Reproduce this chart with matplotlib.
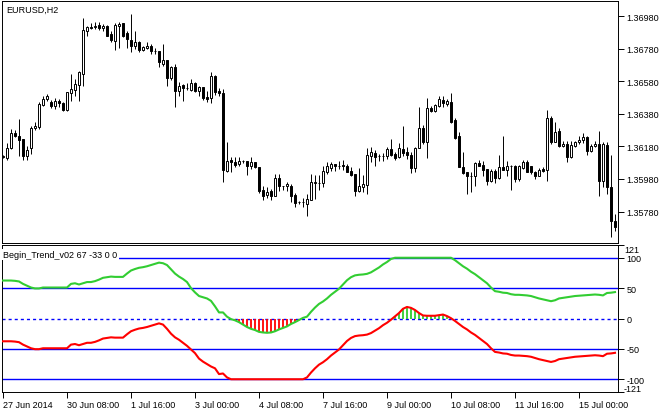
import numpy as np
import matplotlib.pyplot as plt

plt.rcParams['font.family'] = ['Liberation Sans', 'DejaVu Sans']

W, H = 667, 410

# EURUSD H2 bars, 27 Jun 2014 .. 15 Jul 2014
opens = [
    1.36115, 1.36108, 1.36170, 1.36262, 1.36243, 1.36225, 1.36121, 1.36170, 1.36292, 1.36299,
    1.36434, 1.36471, 1.36452, 1.36428, 1.36458, 1.36446, 1.36403, 1.36507, 1.36526, 1.36556,
    1.36624, 1.36888, 1.36912, 1.36912, 1.36925, 1.36906, 1.36919, 1.36870, 1.36827, 1.36919,
    1.36937, 1.36876, 1.36833, 1.36796, 1.36820, 1.36771, 1.36784, 1.36796, 1.36765, 1.36765,
    1.36685, 1.36710, 1.36599, 1.36667, 1.36520, 1.36556, 1.36538, 1.36526, 1.36569, 1.36520,
    1.36544, 1.36483, 1.36477, 1.36612, 1.36520, 1.36507, 1.36029, 1.36096, 1.36084, 1.36072,
    1.36090, 1.36090, 1.36059, 1.36084, 1.36053, 1.35912, 1.35881, 1.35906, 1.35875, 1.35986,
    1.35937, 1.35937, 1.35937, 1.35881, 1.35838, 1.35838, 1.35826, 1.35851, 1.35955, 1.35955,
    1.35955, 1.36022, 1.36047, 1.36072, 1.36059, 1.36065, 1.36059, 1.36029, 1.36010, 1.35906,
    1.35930, 1.35943, 1.36121, 1.36139, 1.36121, 1.36121, 1.36121, 1.36164, 1.36133, 1.36115,
    1.36164, 1.36145, 1.36127, 1.36047, 1.36170, 1.36292, 1.36207, 1.36415, 1.36397, 1.36428,
    1.36464, 1.36440, 1.36452, 1.36342, 1.36243, 1.36053, 1.36022, 1.35998, 1.35998, 1.36078,
    1.36065, 1.36041, 1.35967, 1.36029, 1.35986, 1.36053, 1.36035, 1.36059, 1.36059, 1.35980,
    1.36047, 1.36084, 1.36059, 1.36022, 1.35998, 1.36041, 1.36035, 1.36354, 1.36207, 1.36274,
    1.36182, 1.36194, 1.36115, 1.36182, 1.36207, 1.36219, 1.36237, 1.36151, 1.36182, 1.36194,
    1.35967, 1.36188, 1.35930, 1.35722,
]
highs = [
    1.36127, 1.36200, 1.36286, 1.36280, 1.36348, 1.36225, 1.36182, 1.36305, 1.36329, 1.36452,
    1.36489, 1.36501, 1.36464, 1.36477, 1.36471, 1.36452, 1.36514, 1.36624, 1.36593, 1.36642,
    1.36968, 1.36919, 1.36937, 1.36943, 1.36943, 1.36931, 1.36925, 1.36888, 1.36937, 1.36943,
    1.36937, 1.36888, 1.36992, 1.36888, 1.36827, 1.36796, 1.36820, 1.36808, 1.36784, 1.36765,
    1.36808, 1.36710, 1.36673, 1.36685, 1.36575, 1.36563, 1.36569, 1.36593, 1.36575, 1.36550,
    1.36544, 1.36520, 1.36636, 1.36618, 1.36538, 1.36532, 1.36207, 1.36115, 1.36115, 1.36115,
    1.36096, 1.36090, 1.36115, 1.36084, 1.36053, 1.35937, 1.35930, 1.35918, 1.36010, 1.36010,
    1.35937, 1.35961, 1.35949, 1.35894, 1.35844, 1.35863, 1.35887, 1.36010, 1.36004, 1.36004,
    1.36059, 1.36084, 1.36084, 1.36072, 1.36090, 1.36096, 1.36072, 1.36053, 1.36010, 1.36047,
    1.36004, 1.36170, 1.36176, 1.36158, 1.36133, 1.36139, 1.36176, 1.36225, 1.36145, 1.36200,
    1.36305, 1.36176, 1.36145, 1.36176, 1.36421, 1.36311, 1.36477, 1.36428, 1.36440, 1.36489,
    1.36489, 1.36471, 1.36507, 1.36354, 1.36268, 1.36145, 1.36022, 1.36022, 1.36084, 1.36096,
    1.36090, 1.36041, 1.36041, 1.36041, 1.36127, 1.36243, 1.36090, 1.36065, 1.36065, 1.36065,
    1.36096, 1.36096, 1.36059, 1.36029, 1.36047, 1.36053, 1.36403, 1.36366, 1.36329, 1.36292,
    1.36213, 1.36213, 1.36213, 1.36213, 1.36243, 1.36262, 1.36243, 1.36194, 1.36213, 1.36274,
    1.36207, 1.36207, 1.36127, 1.35765,
]
lows = [
    1.36108, 1.36096, 1.36164, 1.36237, 1.36121, 1.36096, 1.36096, 1.36133, 1.36280, 1.36286,
    1.36428, 1.36458, 1.36415, 1.36409, 1.36421, 1.36397, 1.36397, 1.36458, 1.36489, 1.36458,
    1.36550, 1.36857, 1.36900, 1.36900, 1.36894, 1.36888, 1.36857, 1.36820, 1.36771, 1.36784,
    1.36851, 1.36784, 1.36759, 1.36777, 1.36759, 1.36765, 1.36777, 1.36747, 1.36747, 1.36667,
    1.36673, 1.36550, 1.36587, 1.36421, 1.36489, 1.36458, 1.36526, 1.36520, 1.36514, 1.36489,
    1.36464, 1.36452, 1.36446, 1.36495, 1.36489, 1.35961, 1.36022, 1.36022, 1.36053, 1.36059,
    1.36078, 1.36004, 1.36041, 1.36047, 1.35894, 1.35851, 1.35863, 1.35851, 1.35875, 1.35906,
    1.35912, 1.35906, 1.35838, 1.35808, 1.35826, 1.35808, 1.35752, 1.35851, 1.35857, 1.35912,
    1.35930, 1.36010, 1.36029, 1.36029, 1.36041, 1.36035, 1.36022, 1.35998, 1.35875, 1.35900,
    1.35900, 1.35887, 1.36084, 1.36059, 1.36090, 1.36090, 1.36102, 1.36121, 1.36096, 1.36108,
    1.36121, 1.36102, 1.36016, 1.36022, 1.36170, 1.36194, 1.36108, 1.36391, 1.36391, 1.36421,
    1.36421, 1.36428, 1.36323, 1.36225, 1.36053, 1.36010, 1.35887, 1.35900, 1.35937, 1.36059,
    1.35998, 1.35943, 1.35961, 1.35955, 1.35980, 1.36035, 1.35998, 1.35912, 1.35961, 1.35967,
    1.36041, 1.36022, 1.36010, 1.35980, 1.35998, 1.36022, 1.35967, 1.36194, 1.36207, 1.36176,
    1.36176, 1.36084, 1.36108, 1.36176, 1.36194, 1.36200, 1.36127, 1.36145, 1.36176, 1.35875,
    1.35930, 1.35887, 1.35624, 1.35660,
]
closes = [
    1.36121, 1.36170, 1.36262, 1.36243, 1.36219, 1.36121, 1.36158, 1.36292, 1.36305, 1.36440,
    1.36471, 1.36489, 1.36428, 1.36458, 1.36446, 1.36403, 1.36514, 1.36532, 1.36563, 1.36636,
    1.36894, 1.36912, 1.36906, 1.36919, 1.36906, 1.36919, 1.36857, 1.36833, 1.36925, 1.36931,
    1.36857, 1.36839, 1.36796, 1.36820, 1.36771, 1.36790, 1.36796, 1.36765, 1.36765, 1.36698,
    1.36710, 1.36599, 1.36667, 1.36520, 1.36550, 1.36538, 1.36538, 1.36569, 1.36520, 1.36544,
    1.36477, 1.36471, 1.36612, 1.36514, 1.36507, 1.36035, 1.36090, 1.36084, 1.36065, 1.36090,
    1.36090, 1.36059, 1.36084, 1.36053, 1.35906, 1.35875, 1.35900, 1.35875, 1.35986, 1.35937,
    1.35937, 1.35949, 1.35875, 1.35832, 1.35838, 1.35838, 1.35857, 1.35961, 1.35961, 1.35955,
    1.36029, 1.36059, 1.36072, 1.36059, 1.36059, 1.36059, 1.36022, 1.36004, 1.35906, 1.35937,
    1.35949, 1.36127, 1.36145, 1.36115, 1.36121, 1.36121, 1.36164, 1.36127, 1.36108, 1.36170,
    1.36139, 1.36127, 1.36047, 1.36170, 1.36292, 1.36207, 1.36415, 1.36397, 1.36434, 1.36471,
    1.36446, 1.36458, 1.36329, 1.36231, 1.36053, 1.36016, 1.35998, 1.35998, 1.36078, 1.36059,
    1.36035, 1.35967, 1.36029, 1.35986, 1.36053, 1.36035, 1.36059, 1.36059, 1.35980, 1.36059,
    1.36084, 1.36022, 1.36022, 1.35998, 1.36035, 1.36029, 1.36354, 1.36207, 1.36268, 1.36182,
    1.36194, 1.36115, 1.36188, 1.36207, 1.36219, 1.36237, 1.36151, 1.36182, 1.36194, 1.35967,
    1.36194, 1.35930, 1.35722, 1.35685,
]

# Begin_Trend_v02 buffers
green = [
    62.5, 62.5, 62.5, 62, 61, 57, 54, 51, 49.5, 49.5,
    51, 51, 51, 51, 51, 51, 51, 57, 58, 56,
    58, 60, 60, 61.5, 64, 67, 68, 69, 68.5, 68.5,
    68.5, 74, 79, 81.5, 83.5, 84.5, 86, 88, 90, 92,
    91, 88, 81, 74, 69, 65, 60, 50, 43, 37,
    35, 33, 29, 20, 10, 10, 3, -1, -3, -6,
    -10, -14, -17, -19, -22, -23, -23.5, -23, -21, -18,
    -15.5, -13, -9, -6, -2.5, 1, 3, 11, 18, 24,
    28, 33, 39, 44, 49, 56, 63, 68, 71, 72,
    72.5, 73.5, 76, 80, 84, 89, 93, 98, 100, 100,
    100, 100, 100, 100, 100, 100, 100, 100, 100, 100,
    100, 100, 100, 96, 91, 86, 82, 77, 73, 68,
    63, 58, 51, 45, 44, 42.5, 42, 40, 39, 39,
    38.5, 38, 37, 35, 33, 31.5, 30, 28.5, 30, 33,
    34, 35, 36, 37, 37.5, 38, 38.5, 39, 39.5, 39,
    38, 42, 42.5, 43.5,
]
red = [
    -37.5, -37.5, -37.5, -38, -39, -43, -46, -49, -50.5, -50.5,
    -49, -49, -49, -49, -49, -49, -49, -43, -42, -44,
    -42, -40, -40, -38.5, -36, -33, -32, -31, -31.5, -31.5,
    -31.5, -26, -21, -18.5, -16.5, -15.5, -14, -12, -10, -8,
    -10, -17, -25, -31, -35, -40, -45, -51, -57, -66,
    -71, -75, -79, -82, -91.5, -90.5, -97, -100, -100, -100,
    -100, -100, -100, -100, -100, -100, -100, -100, -100, -100,
    -100, -100, -100, -100, -100, -100, -97, -89, -82, -76,
    -72, -67, -61, -56, -51, -44, -37, -32, -29, -28,
    -27.5, -26.5, -24, -20, -16, -11, -7, -2, 3.5, 9,
    16, 19, 17.5, 14, 9, 5, 4.5, 4.5, 4.5, 5.5,
    6.5, 4, 0.5, -4, -9, -14, -18, -23, -27, -32,
    -37, -42, -49, -55, -56, -57.5, -58, -60, -61, -61,
    -61.5, -62, -63, -65, -67, -68.5, -70, -71.5, -70, -67,
    -66, -65, -64, -63, -62.5, -62, -61.5, -61, -60.5, -61,
    -62, -58, -57.5, -56.5,
]

time_pos = [0, 16, 32, 48, 64, 80, 96, 112, 128, 144]
time_labels = ["27 Jun 2014", "30 Jun 08:00", "1 Jul 16:00", "3 Jul 00:00", "4 Jul 08:00",
               "7 Jul 16:00", "9 Jul 00:00", "10 Jul 08:00", "11 Jul 16:00", "15 Jul 00:00"]
price_ticks = [1.35780, 1.35980, 1.36180, 1.36380, 1.36580, 1.36780, 1.36980]
levels = [100, 50, -50, -100]
ind_ticks = [100, 50, 0, -50, -100]

LIME = "#32cd32"
BLUE = "#0000ff"
FS = 6.5
LW = 0.7   # one pixel


def box(left, top, right, bottom):
    return [left / W, 1 - bottom / H, (right - left) / W, (bottom - top) / H]


fig = plt.figure(figsize=(W / 100, H / 100), dpi=100)
ax = fig.add_axes(box(2, 2, 618, 244))
ax2 = fig.add_axes(box(2, 246, 618, 393))

x = np.arange(len(opens))
o, h, l, c = map(np.array, (opens, highs, lows, closes))

# ---- candles ----
ax.vlines(x, l, h, color="black", lw=LW, zorder=2)
up, dn, eq = c > o, c < o, c == o
ax.bar(x[up], (c - o)[up], bottom=o[up], width=0.55, facecolor="white",
       edgecolor="black", lw=LW, zorder=3)
ax.bar(x[dn], (o - c)[dn], bottom=c[dn], width=0.55, facecolor="black",
       edgecolor="black", lw=LW, zorder=3)
ax.hlines(c[eq], x[eq] - 0.35, x[eq] + 0.35, color="black", lw=LW, zorder=3)

ax.set_xlim(-0.25, 153.75)
ax.set_ylim(1.355867, 1.370721)
ax.set_xticks([])
ax.yaxis.tick_right()
ax.set_yticks(price_ticks)
ax.set_yticklabels([f"{p:.5f}" for p in price_ticks])
ax.tick_params(axis="y", direction="out", length=4, width=LW, labelsize=FS, pad=2)
ax.text(0.007, 0.985, "EURUSD,H2", transform=ax.transAxes, fontsize=FS,
        va="top", ha="left")

# ---- indicator ----
for lv in levels:
    ax2.axhline(lv, color=BLUE, lw=1.0, zorder=1)
ax2.axhline(0, color=BLUE, lw=1.0, ls=(0, (2.2, 2.2)), zorder=1)

g, r = np.array(green), np.array(red)
ax2.vlines(x[g < 0], 0, g[g < 0], color="red", lw=1.3, zorder=2)
ax2.vlines(x[r > 0], 0, r[r > 0], color=LIME, lw=1.3, zorder=2)
ax2.plot(x, g, color=LIME, lw=1.5, zorder=3)
ax2.plot(x, r, color="red", lw=1.5, zorder=3)

ax2.set_xlim(-0.25, 153.75)
ax2.set_ylim(-121, 121)
ax2.yaxis.tick_right()
ax2.set_yticks(ind_ticks)
ax2.set_yticklabels([str(t) for t in ind_ticks])
ax2.set_yticks([121, -121], minor=True)
ax2.tick_params(axis="y", which="both", direction="out", length=4, width=LW,
                labelsize=FS, pad=2)
ax2.annotate("121", xy=(1, 114), xycoords=("axes fraction", "data"),
             xytext=(6, 0), textcoords="offset pixels", va="center", fontsize=FS)
ax2.annotate("-121", xy=(1, -116), xycoords=("axes fraction", "data"),
             xytext=(6, 0), textcoords="offset pixels", va="center", fontsize=FS)
ax2.set_xticks(time_pos)
ax2.set_xticklabels(time_labels, ha="left")
ax2.tick_params(axis="x", direction="out", length=4, width=LW, labelsize=FS, pad=1.5)
ax2.text(0.002, 0.935, "Begin_Trend_v02 67 -33 0 0", transform=ax2.transAxes,
         fontsize=FS, va="center", ha="left", zorder=5,
         bbox=dict(facecolor="white", edgecolor="none", pad=1.0))

for a in (ax, ax2):
    for s in a.spines.values():
        s.set_linewidth(LW)
        s.set_color("black")

fig.savefig("out.png", dpi=100)
